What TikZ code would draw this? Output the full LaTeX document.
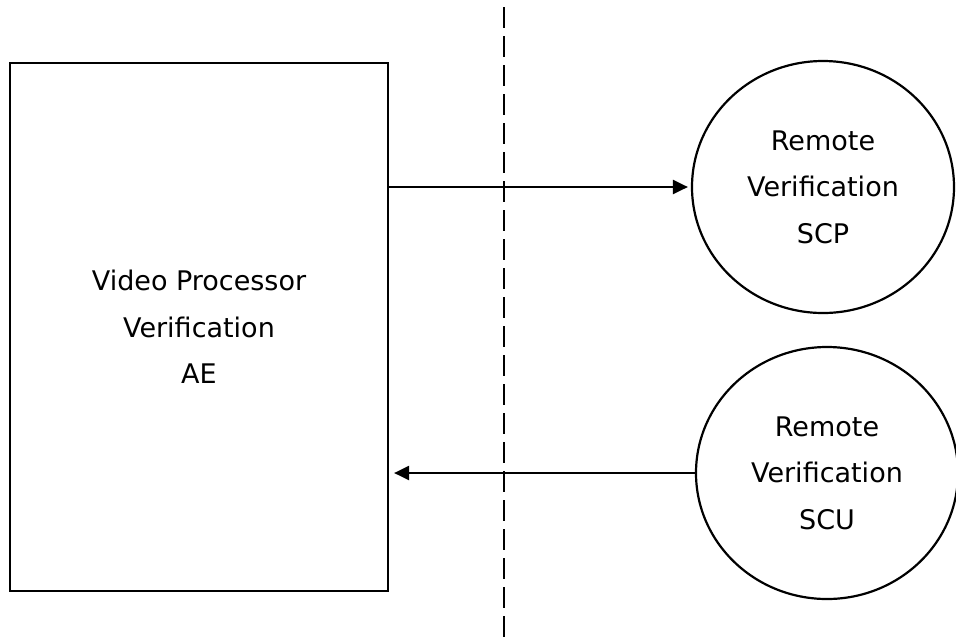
\documentclass[tikz,border=0pt]{standalone}
\usepackage{fontspec}
\setmainfont{DejaVu Sans}
\usetikzlibrary{shapes.geometric,arrows.meta}

\begin{document}
\begin{tikzpicture}[x=1pt,y=-1pt,line width=2.2pt,
		block/.style={rectangle,draw,minimum width=378pt,minimum height=528pt,inner sep=0pt,align=center},
		service/.style={ellipse,draw,minimum width=262pt,minimum height=252pt,inner sep=0pt,align=center},
		msg/.style={-{Triangle[length=15pt,width=14pt]}}]
		\useasboundingbox (0,0) rectangle (956,641);
		\fontsize{27pt}{46.5pt}\selectfont
		\node[block](ae) at (199,327){Video Processor\\Verification\\AE};
		\node[service](scp) at (823,187){Remote\\Verification\\SCP};
		\node[service](scu) at (827,473){Remote\\Verification\\SCU};
		\coordinate (top) at (504,7);
		\coordinate (bottom) at (504,641);
		\draw[dash pattern=on 21pt off 8pt] (top) -- (bottom);
		\draw[msg,shorten >=3pt] (ae.east |- scp.west) -- (scp.west);
		\draw[msg,shorten >=5pt] (scu.west) -- (ae.east |- scu.west);
	\end{tikzpicture}
\end{document}
